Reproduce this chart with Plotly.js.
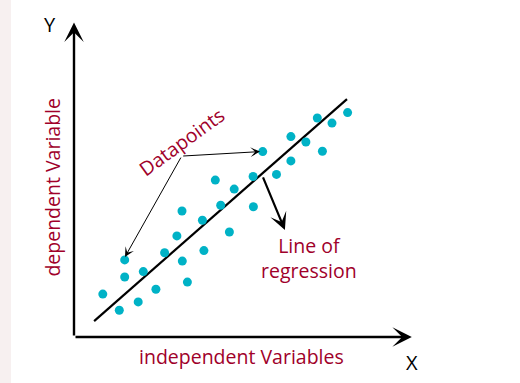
<!DOCTYPE html>
<html>
<head>
<meta charset="utf-8">
<script src="https://cdn.plot.ly/plotly-3.0.1.min.js"></script>
<style>html,body{margin:0;padding:0;background:#fff;}#chart{width:520px;height:383px;}</style>
</head>
<body>
<div id="chart"></div>
<script>
// Data points (independent, dependent)
const pointX = [0.96, 1.51, 1.69, 1.69, 2.14, 2.31, 2.73, 3.02, 3.43, 3.60, 3.61, 3.78, 4.28, 4.33, 4.71,
                4.89, 5.18, 5.34, 5.97, 5.98, 6.29, 6.75, 7.23, 7.23, 7.73, 8.11, 8.28, 8.60, 9.12];
const pointY = [1.43, 0.89, 2.57, 2.00, 1.17, 2.18, 1.59, 2.81, 3.37, 4.20, 2.53, 1.83, 3.89, 2.88, 5.23,
                4.39, 3.50, 4.93, 5.35, 4.34, 6.18, 5.42, 6.68, 5.87, 6.50, 7.30, 6.19, 7.13, 7.48];
// Regression line endpoints
const lineX = [0.67, 9.10];
const lineY = [0.53, 7.93];
// Axis extents
const axisEndX = 11.26;
const axisEndY = 10.48;
// Labels
const labelX = 'independent Variables';
const labelY = 'dependent Variable';
const labelPoints = 'Datapoints';
const labelLine = 'Line of<br>regression';

const teal = '#00b2c6';
const red = '#a0002a';
const font = 'Open Sans, sans-serif';

const traces = [
  {x: lineX, y: lineY, mode: 'lines', type: 'scatter', line: {color: '#000', width: 2.2}, hoverinfo: 'skip'},
  {x: pointX, y: pointY, mode: 'markers', type: 'scatter', marker: {color: teal, size: 9}, hoverinfo: 'skip'}
];

function arrow(x, y, ax, ay, w, size) {
  return {x: x, y: y, ax: ax, ay: ay, xref: 'x', yref: 'y', axref: 'x', ayref: 'y', text: '',
          showarrow: true, arrowhead: 3, arrowwidth: w, arrowsize: size, arrowcolor: '#000'};
}
function label(x, y, text, color, size, angle) {
  return {x: x, y: y, xref: 'x', yref: 'y', text: text, showarrow: false, textangle: angle || 0,
          font: {family: font, size: size, color: color}, xanchor: 'center', yanchor: 'middle'};
}

const annotations = [
  arrow(axisEndX, 0, 0, 0, 2.4, 1.35),
  arrow(0, axisEndY, 0, 0, 2.4, 1.35),
  arrow(1.70, 2.67, 3.59, 6.03, 1, 1.6),
  arrow(6.20, 6.18, 3.59, 6.03, 1, 1.6),
  arrow(7.03, 3.57, 6.28, 5.37, 2.2, 1.3),
  label(-0.80, 10.43, 'Y', '#000', 20),
  label(axisEndX, -0.86, 'X', '#000', 20),
  label(5.57, -0.66, labelX, red, 19.5),
  label(-0.70, 4.98, labelY, red, 19.5, -90),
  label(3.60, 6.51, labelPoints, red, 19.5, -36),
  label(7.83, 2.63, labelLine, red, 19.5)
];

const layout = {
  width: 520, height: 383, autosize: false,
  margin: {l: 0, r: 0, t: 0, b: 0, pad: 0},
  paper_bgcolor: '#fff', plot_bgcolor: '#fff',
  showlegend: false,
  xaxis: {range: [-74/30, 446/30], visible: false, fixedrange: true},
  yaxis: {range: [-46/30, 337/30], visible: false, fixedrange: true},
  shapes: [{type: 'rect', xref: 'paper', yref: 'paper', x0: 0, x1: 11/520, y0: 0, y1: 1,
            fillcolor: '#f7f0f0', line: {width: 0}, layer: 'below'}],
  annotations: annotations
};

Plotly.newPlot('chart', traces, layout, {displayModeBar: false, staticPlot: true});
</script>
</body>
</html>
